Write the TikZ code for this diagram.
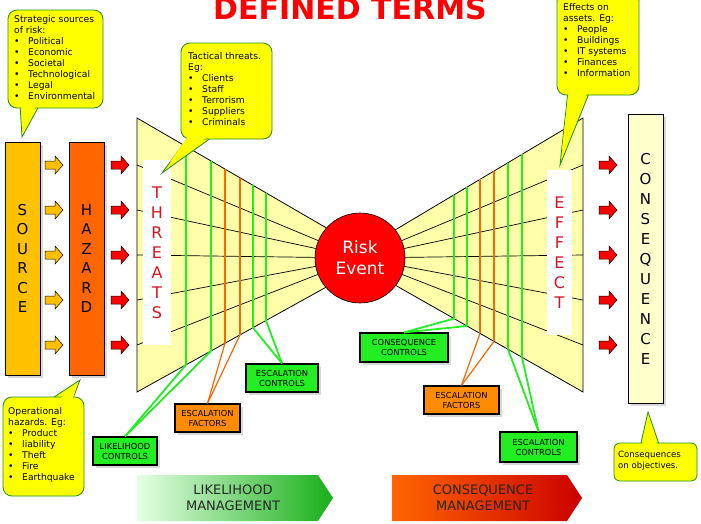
\documentclass[tikz,border=0pt]{standalone}
\usepackage{fontspec}
\setmainfont{DejaVu Sans}
\usetikzlibrary{shadows}
\definecolor{cgreen}{HTML}{22EE22}
\definecolor{corange}{HTML}{FF6600}
\definecolor{csrc}{HTML}{FFC000}
\definecolor{ctrap}{HTML}{FFFFAA}
\definecolor{cyel}{HTML}{FFFF00}
\definecolor{ctxt}{HTML}{DD1122}
\definecolor{cbord}{HTML}{228B22}
\newcommand{\bl}{\makebox[14pt][l]{•}}
\newcommand{\blockarr}[3]{\draw[fill=#3,line width=0.5pt] (#1-9,#2-4) -- (#1+1,#2-4) -- (#1+1,#2-9) -- (#1+9,#2) -- (#1+1,#2+9) -- (#1+1,#2+4) -- (#1-9,#2+4) -- cycle;}
\tikzset{
  ctrlbox/.style={draw=black,line width=1.2pt,fill=cgreen,font=\fontsize{8.3}{10}\selectfont,align=center,inner sep=1pt,drop shadow={opacity=0.3}},
  factbox/.style={ctrlbox,fill=orange!90!yellow},
  gline/.style={cgreen,line width=1.8pt},
  oline/.style={corange,line width=1.2pt},
  ray/.style={black,line width=0.7pt},
  callout/.style={fill=cyel,draw=cbord,line width=0.8pt,rounded corners=9pt},
  ctext/.style={font=\fontsize{9.2}{11}\selectfont,align=left,anchor=north west,inner sep=0pt},
  letters/.style={align=center,font=\fontsize{15}{19.5}\selectfont},
}
\begin{document}
\begin{tikzpicture}[x=1pt,y=-1pt]
\useasboundingbox (0,0) rectangle (701,523);
\clip (0,0) rectangle (701,523);
\fill[white] (0,0) rectangle (701,523);
% title
\node[font=\fontsize{30}{30}\selectfont\bfseries,text=red] (title) at (350,9) {DEFINED TERMS};
% source & hazard
\node[draw,line width=1pt,fill=csrc,minimum width=35pt,minimum height=233pt,drop shadow={opacity=0.3},letters] (source) at (22.5,258.5) {S\\O\\U\\R\\C\\E};
\node[draw,line width=1pt,fill=corange,minimum width=35pt,minimum height=233pt,drop shadow={opacity=0.3},letters] (hazard) at (86.5,258.5) {H\\A\\Z\\A\\R\\D};
\foreach \y in {165,210,255,300,345}{\blockarr{54}{\y}{csrc}\blockarr{120}{\y}{red}\blockarr{608}{\y}{red}}
% trapezoids
\fill[ctrap,draw=black,line width=0.8pt] (137,118) -- (330,230) -- (330,285) -- (137,392) -- cycle;
\fill[ctrap,draw=black,line width=0.8pt] (583,118) -- (395,230) -- (395,285) -- (583,392) -- cycle;
\coordinate (ctr) at (360,258);
\foreach \y in {165,210,255,300,345}{\draw[ray] (137,\y) -- (ctr); \draw[ray] (583,\y) -- (ctr);}
\node[fill=white,minimum width=28pt,minimum height=185pt,text=ctxt,align=center,font=\fontsize{16}{20}\selectfont] (threats) at (157,252.5) {T\\H\\R\\E\\A\\T\\S};
\node[fill=white,minimum width=25pt,minimum height=165pt,text=ctxt,align=center,font=\fontsize{16}{20}\selectfont] (effect) at (559.5,252.5) {E\\F\\F\\E\\C\\T};
% verticals left
\draw[gline] (186,146.4) -- (186,364.8) coordinate (l1);
\draw[gline] (211,160.9) -- (211,351.0) coordinate (l2);
\draw[oline] (225,169.0) -- (225,343.2) coordinate (l3);
\draw[oline] (240,177.7) -- (240,334.9) coordinate (l4);
\draw[gline] (253,185.3) -- (253,327.7) coordinate (l5);
\draw[gline] (266,192.8) -- (266,320.5) coordinate (l6);
% verticals right
\draw[gline] (454,194.9) -- (454,318.6) coordinate (r1);
\draw[gline] (467,187.1) -- (467,326.0) coordinate (r2);
\draw[oline] (480,179.4) -- (480,333.4) coordinate (r3);
\draw[oline] (494,171.0) -- (494,341.4) coordinate (r4);
\draw[gline] (508,162.7) -- (508,349.3) coordinate (r5);
\draw[gline] (522,154.4) -- (522,357.3) coordinate (r6);
% circle
\node[circle,fill=red,draw=black,line width=0.6pt,minimum size=90pt,align=center,text=white,font=\fontsize{17}{21}\selectfont] (risk) at (ctr) {Risk\\Event};
% consequence box
\node[draw,line width=1pt,fill=ctrap!60,minimum width=35pt,minimum height=289pt,drop shadow={opacity=0.3},align=center,font=\fontsize{15}{20}\selectfont] (conseq) at (645.5,258.5) {C\\O\\N\\S\\E\\Q\\U\\E\\N\\C\\E};
% control boxes
\node[ctrlbox,minimum width=64pt,minimum height=28pt] (lc) at (125,451) {LIKELIHOOD\\CONTROLS};
\node[factbox,minimum width=65pt,minimum height=28pt] (ef1) at (207.5,418) {ESCALATION\\FACTORS};
\node[ctrlbox,minimum width=72pt,minimum height=28pt] (ec1) at (282,378) {ESCALATION\\CONTROLS};
\node[ctrlbox,minimum width=88pt,minimum height=29pt] (cc) at (404,347.5) {CONSEQUENCE\\CONTROLS};
\node[factbox,minimum width=75pt,minimum height=28pt] (ef2) at (461.5,400) {ESCALATION\\FACTORS};
\node[ctrlbox,minimum width=77pt,minimum height=30pt] (ec2) at (538.5,447) {ESCALATION\\CONTROLS};
\draw[gline] (lc.north) -- (l1); \draw[gline] (lc.north) -- (l2);
\draw[oline] (ef1.north) -- (l3); \draw[oline] (ef1.north) -- (l4);
\draw[gline] (ec1.north) -- (l5); \draw[gline] (ec1.north) -- (l6);
\draw[gline] (cc.north) -- (r1); \draw[gline] (cc.north) -- (r2);
\draw[oline] (ef2.north) -- (r3); \draw[oline] (ef2.north) -- (r4);
\draw[gline] (ec2.north) -- (r5); \draw[gline] (ec2.north) -- (r6);
% callouts
\coordinate (t1) at (22,137);
\filldraw[fill=cyel,draw=cbord,line width=0.8pt] (20,104) -- (t1) -- (40,104);
\path[callout] (8,10) rectangle (103,108);
\fill[cyel] (21,100) -- (23,130) -- (39,100) -- cycle;
\node[ctext] (c1) at (14,15) {Strategic sources\\of risk:\\\bl Political\\\bl Economic\\\bl Societal\\\bl Technological\\\bl Legal\\\bl Environmental};
\coordinate (t2) at (162,173);
\filldraw[fill=cyel,draw=cbord,line width=0.8pt] (190,135) -- (t2) -- (215,135);
\path[callout] (181,43) rectangle (272,139);
\fill[cyel] (191,132) -- (170,162) -- (214,132) -- cycle;
\node[ctext] (c2) at (188,52) {Tactical threats.\\Eg:\\\bl Clients\\\bl Staff\\\bl Terrorism\\\bl Suppliers\\\bl Criminals};
\coordinate (t3) at (560,165);
\filldraw[fill=cyel,draw=cbord,line width=0.8pt] (568,91) -- (t3) -- (590,91);
\path[callout] (557,-8) rectangle (639,95);
\fill[cyel] (569,88) -- (562,150) -- (589,88) -- cycle;
\node[ctext] (c3) at (563,3) {Effects on\\assets. Eg:\\\bl People\\\bl Buildings\\\bl IT systems\\\bl Finances\\\bl Information};
\coordinate (t4) at (80,380);
\filldraw[fill=cyel,draw=cbord,line width=0.8pt] (48,401) -- (t4) -- (72,401);
\path[callout] (3,397) rectangle (84,496);
\fill[cyel] (49,405) -- (76,388) -- (71,405) -- cycle;
\node[ctext] (c4) at (8,407) {Operational\\hazards. Eg:\\\bl Product\\\bl liability\\\bl Theft\\\bl Fire\\\bl Earthquake};
\coordinate (t5) at (648,412);
\filldraw[fill=cyel,draw=cbord,line width=0.8pt] (640,447) -- (t5) -- (660,447);
\path[callout,rounded corners=6pt] (614,443) rectangle (697,481);
\fill[cyel] (641,450) -- (648,420) -- (659,450) -- cycle;
\node[ctext,font=\fontsize{8.6}{11}\selectfont] (c5) at (618,451) {Consequences\\on objectives.};
% management banners
\shade[left color=green!10,right color=green!65!black!90] (137,475) -- (318,475) -- (333,498) -- (318,521) -- (137,521) -- cycle;
\node[align=center,font=\fontsize{13}{16}\selectfont,text=black!85] (lm) at (233,498) {LIKELIHOOD\\MANAGEMENT};
\shade[left color=corange,right color=red!80!black] (392,475) -- (567,475) -- (582,498) -- (567,521) -- (392,521) -- cycle;
\node[align=center,font=\fontsize{13}{16}\selectfont,text=black!85] (cm) at (483,498) {CONSEQUENCE\\MANAGEMENT};
\end{tikzpicture}
\end{document}
